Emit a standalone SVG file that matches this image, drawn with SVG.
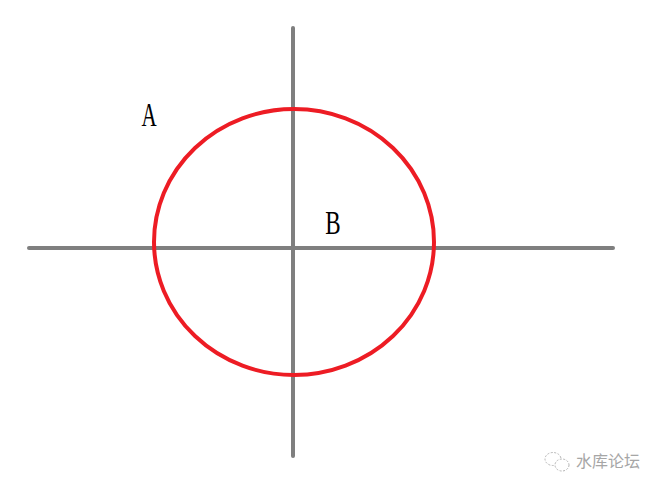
<svg xmlns="http://www.w3.org/2000/svg" width="661" height="490" viewBox="0 0 661 490">
<style>
.axis{stroke:#7f7f7f;stroke-width:4;stroke-linecap:round;fill:none}
.circ{stroke:#ed1c24;stroke-width:4;fill:none}
.lbl{font-family:"Liberation Serif","DejaVu Serif",serif;font-size:34px;fill:#000}
.wm{font-family:"Noto Sans CJK SC","Noto Sans",sans-serif;font-size:16px;fill:#a6a6a6}
</style>
<rect width="661" height="490" fill="#fff"/>
<g id="connectors">
<line class="axis" x1="29" y1="248" x2="613" y2="248"/>
<line class="axis" x1="293" y1="28" x2="293" y2="456"/>
</g>
<g id="circle"><ellipse class="circ" cx="294" cy="242" rx="140" ry="133"/></g>
<g id="labelA"><text class="lbl" x="149" y="126" text-anchor="middle" transform="translate(149 0) scale(0.62 1) translate(-149 0)">A</text></g>
<g id="labelB"><text class="lbl" x="333" y="234" text-anchor="middle" transform="translate(333 0) scale(0.68 1) translate(-333 0)">B</text></g>
<g id="watermark">
<ellipse cx="553" cy="459" rx="8" ry="6.5" fill="none" stroke="#b5b5b5" stroke-width="1" stroke-dasharray="2 1.5"/>
<ellipse cx="562" cy="465" rx="7" ry="6" fill="#fff" stroke="#b5b5b5" stroke-width="1" stroke-dasharray="2 1.5"/>
<text class="wm" x="576" y="467">水库论坛</text>
</g>
</svg>
